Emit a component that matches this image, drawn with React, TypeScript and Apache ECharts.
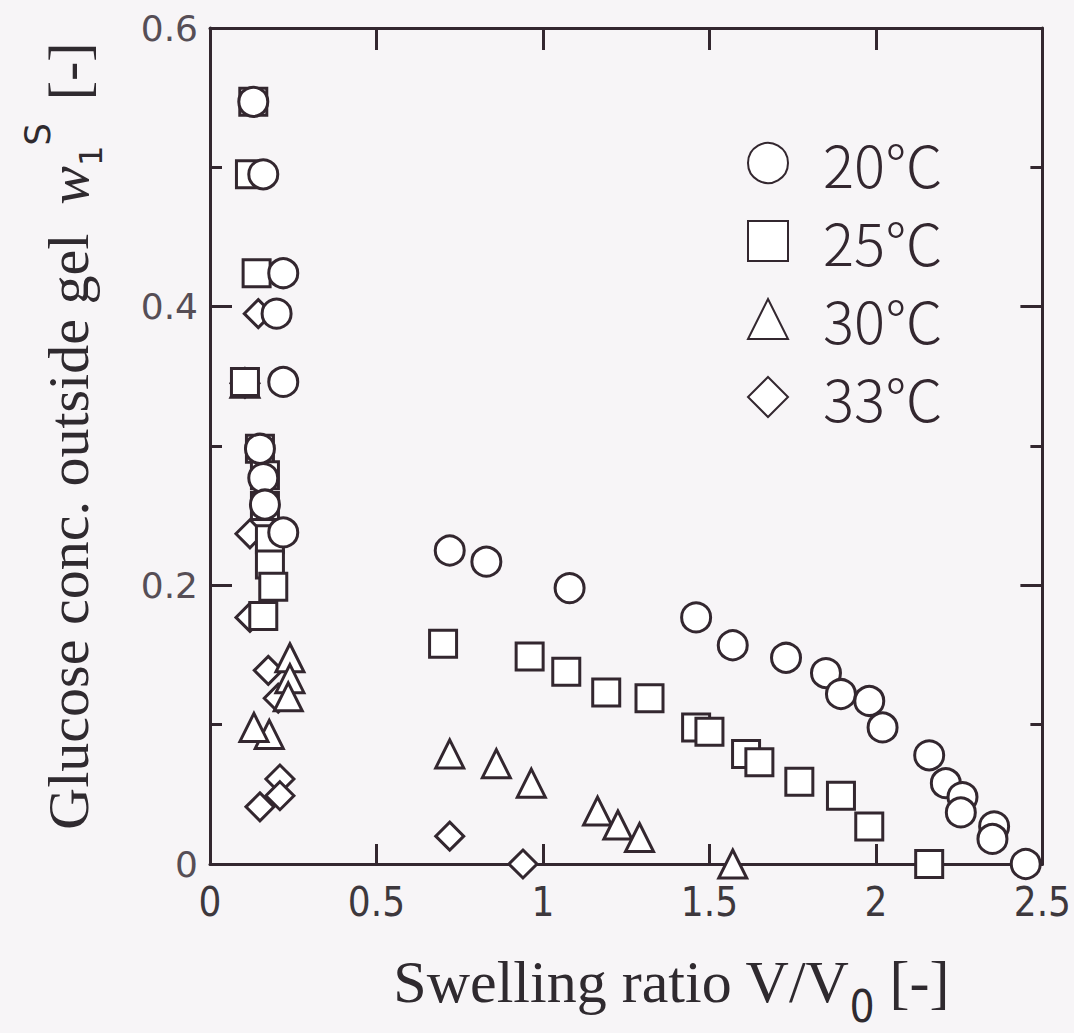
import React, { useEffect, useRef } from "react";
import * as echarts from "echarts";

// ---- data ----
const xTickLabels = ["0", "0.5", "1", "1.5", "2", "2.5"];
const yTickLabels = ["0", "0.2", "0.4", "0.6"];

const legendNames = ["20℃", "25℃", "30℃", "33℃"];

// 20 °C (circles)
const t20X = [0.13, 0.16, 0.22, 0.2, 0.22, 0.15, 0.16, 0.165, 0.22, 0.72, 0.83, 1.08, 1.46, 1.57, 1.73, 1.85, 1.895, 1.98, 2.02, 2.16, 2.21, 2.26, 2.255, 2.355, 2.35, 2.45];
const t20Y = [0.547, 0.495, 0.424, 0.395, 0.346, 0.298, 0.277, 0.258, 0.238, 0.225, 0.217, 0.198, 0.177, 0.157, 0.148, 0.137, 0.122, 0.117, 0.098, 0.078, 0.058, 0.048, 0.037, 0.027, 0.018, 0.0];

// 25 °C (squares)
const t25X = [0.13, 0.12, 0.14, 0.105, 0.15, 0.165, 0.165, 0.18, 0.18, 0.19, 0.16, 0.7, 0.96, 1.07, 1.19, 1.32, 1.46, 1.5, 1.61, 1.65, 1.77, 1.895, 1.98, 2.16];
const t25Y = [0.547, 0.495, 0.424, 0.346, 0.298, 0.279, 0.257, 0.233, 0.215, 0.199, 0.178, 0.158, 0.149, 0.138, 0.123, 0.119, 0.098, 0.095, 0.079, 0.073, 0.059, 0.049, 0.027, 0.0];

// 30 °C (triangles)
const t30X = [0.105, 0.24, 0.24, 0.235, 0.178, 0.132, 0.72, 0.86, 0.965, 1.164, 1.225, 1.29, 1.57];
const t30Y = [0.345, 0.148, 0.133, 0.12, 0.093, 0.098, 0.079, 0.072, 0.058, 0.038, 0.028, 0.019, 0.0];

// 33 °C (diamonds)
const t33X = [0.145, 0.105, 0.12, 0.12, 0.175, 0.205, 0.21, 0.21, 0.15, 0.72, 0.94];
const t33Y = [0.395, 0.345, 0.237, 0.177, 0.139, 0.119, 0.061, 0.049, 0.041, 0.02, 0.0];

const INK = "#33272f";
const BG = "#f7f5f7";

const zip = (xs: number[], ys: number[]) => xs.map((x, i) => [x, ys[i]]);

export default function App() {
  const ref = useRef<HTMLDivElement>(null);

  useEffect(() => {
    if (!ref.current) return;
    const chart = echarts.init(ref.current, null, { renderer: "svg" });

    const markerStyle = { color: "#ffffff", borderColor: INK, borderWidth: 3, opacity: 1 };

    const makeSeries = (name: string, symbol: string, size: number, xs: number[], ys: number[]) => ({
      name,
      type: "scatter",
      symbol,
      symbolSize: size,
      data: zip(xs, ys),
      itemStyle: markerStyle,
      emphasis: { disabled: true },
      xAxisIndex: 0,
      yAxisIndex: 0,
    });

    const axisLineStyle = { color: INK, width: 3 };

    const option: any = {
      animation: false,
      backgroundColor: BG,
      grid: { left: 210, right: 28, top: 28, bottom: 169, containLabel: false },
      legend: {
        data: legendNames,
        orient: "vertical",
        left: 747,
        top: 134,
        padding: 0,
        itemWidth: 40,
        itemHeight: 40,
        itemGap: 20,
        selectedMode: false,
        textStyle: {
          fontFamily: "'Noto Sans CJK JP', 'DejaVu Sans', sans-serif",
          fontWeight: 300,
          fontSize: 58,
          lineHeight: 58,
          color: INK,
          padding: [0, 0, 0, 30],
        },
      },
      xAxis: [
        {
          type: "value",
          min: 0,
          max: 2.5,
          interval: 0.5,
          position: "bottom",
          axisLine: { show: true, onZero: false, lineStyle: axisLineStyle },
          axisTick: { show: true, inside: true, length: 20, lineStyle: axisLineStyle },
          splitLine: { show: false },
          axisLabel: {
            margin: 18,
            fontFamily: "'Liberation Sans Narrow', 'DejaVu Sans Condensed', sans-serif",
            fontSize: 40,
            color: "#3d383d",
            formatter: (v: number) => xTickLabels[Math.round(v / 0.5)] ?? "",
          },
          name: "Swelling ratio V/V{sub|0} [-]",
          nameLocation: "middle",
          nameGap: 88,
          nameTextStyle: {
            fontFamily: "'Liberation Serif', 'DejaVu Serif', serif",
            fontSize: 60,
            color: "#2f2a2f",
            padding: [0, 0, 0, 90],
            rich: {
              sub: {
                fontFamily: "'Liberation Sans Narrow', 'DejaVu Sans Condensed', sans-serif",
                fontSize: 44,
                color: "#2f2a2f",
                verticalAlign: "bottom",
                lineHeight: 44,
                padding: [0, 0, -16, 0],
              },
            },
          },
        },
        {
          type: "value",
          min: 0,
          max: 2.5,
          interval: 0.5,
          position: "top",
          axisLine: { show: true, onZero: false, lineStyle: axisLineStyle },
          axisTick: { show: true, inside: true, length: 22, lineStyle: axisLineStyle },
          axisLabel: { show: false },
          splitLine: { show: false },
        },
      ],
      yAxis: [
        {
          type: "value",
          min: 0,
          max: 0.6,
          interval: 0.2,
          position: "left",
          axisLine: { show: true, onZero: false, lineStyle: axisLineStyle },
          axisTick: { show: true, inside: true, length: 22, lineStyle: axisLineStyle },
          minorTick: { show: true, splitNumber: 2, length: 12, lineStyle: axisLineStyle },
          splitLine: { show: false },
          axisLabel: {
            margin: 12,
            fontFamily: "'DejaVu Sans', sans-serif",
            fontSize: 36,
            color: "#564e56",
            formatter: (v: number) => yTickLabels[Math.round(v / 0.2)] ?? "",
          },
          name: "Glucose conc. outside gel  {w|w}{sub|1}{sup|S} [-]",
          nameLocation: "middle",
          nameRotate: 90,
          nameGap: 113,
          nameTextStyle: {
            fontFamily: "'Liberation Serif', 'DejaVu Serif', serif",
            fontSize: 58,
            color: "#2f2a2f",
            padding: [0, 0, 0, 20],
            rich: {
              w: {
                fontFamily: "'Liberation Serif', 'DejaVu Serif', serif",
                fontStyle: "italic",
                fontSize: 58,
                color: "#2f2a2f",
              },
              sub: {
                fontFamily: "'DejaVu Sans', sans-serif",
                fontSize: 32,
                color: "#2f2a2f",
                verticalAlign: "bottom",
                lineHeight: 32,
                padding: [0, 0, -10, 0],
              },
              sup: {
                fontFamily: "'DejaVu Sans', sans-serif",
                fontSize: 36,
                color: "#2f2a2f",
                verticalAlign: "top",
                lineHeight: 36,
                padding: [-20, 8, 0, 0],
              },
            },
          },
        },
        {
          type: "value",
          min: 0,
          max: 0.6,
          interval: 0.2,
          position: "right",
          axisLine: { show: true, onZero: false, lineStyle: axisLineStyle },
          axisTick: { show: true, inside: true, length: 22, lineStyle: axisLineStyle },
          minorTick: { show: true, splitNumber: 2, length: 12, lineStyle: axisLineStyle },
          axisLabel: { show: false },
          splitLine: { show: false },
        },
      ],
      series: [
        makeSeries(legendNames[3], "diamond", 28, t33X, t33Y),
        makeSeries(legendNames[2], "triangle", 28, t30X, t30Y),
        makeSeries(legendNames[1], "rect", 27, t25X, t25Y),
        makeSeries(legendNames[0], "circle", 29, t20X, t20Y),
      ],
    };

    chart.setOption(option);
    return () => chart.dispose();
  }, []);

  return (
    <div
      ref={ref}
      style={{ position: "fixed", left: 0, top: 0, width: 1074, height: 1033, background: BG }}
    />
  );
}
